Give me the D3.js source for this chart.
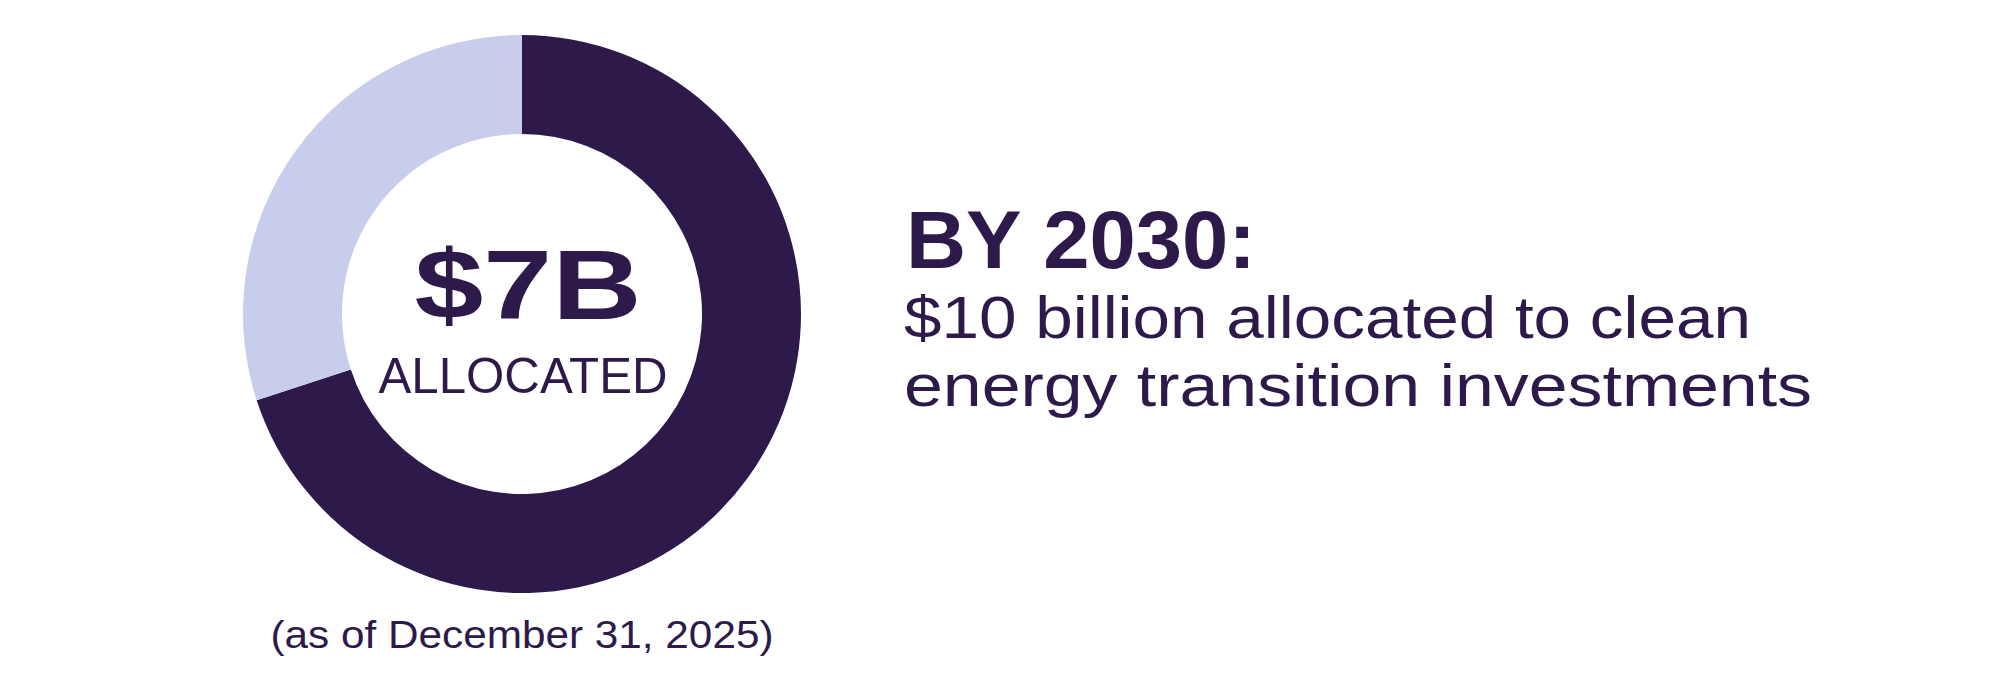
<!DOCTYPE html>
<html>
<head>
<meta charset="utf-8">
<script src="https://cdn.jsdelivr.net/npm/d3@7"></script>
<style>
  html, body { margin: 0; padding: 0; background: #ffffff; }
  svg { display: block; }
</style>
</head>
<body>
<div id="chart"></div>
<script>
// ---- data ----
const categories = ["Allocated", "Remaining to 2030 target"];
const values = [7, 3];           // $ billion
const target = 10;               // $ billion by 2030
const centerLabel = "$7B";
const centerSub = "ALLOCATED";
const footnote = "(as of December 31, 2025)";
const headline = "BY 2030:";
const bodyLines = ["$10 billion allocated to clean", "energy transition investments"];

// ---- styles ----
const W = 2000, H = 678;
const ink = "#2d1a4a";
const colors = d3.scaleOrdinal().domain(categories).range(["#2d1a4a", "#c7cdeb"]);
const font = "'Liberation Sans', Arial, sans-serif";

const svg = d3.select("#chart").append("svg")
  .attr("width", W).attr("height", H)
  .attr("viewBox", `0 0 ${W} ${H}`);
svg.append("rect").attr("width", W).attr("height", H).attr("fill", "#fff");

const cx = 522, cy = 314, rOuter = 279, rInner = 180;

const pie = d3.pie().sort(null).value(d => d.value);
const arc = d3.arc().innerRadius(rInner).outerRadius(rOuter);
const data = categories.map((c, i) => ({ cat: c, value: values[i] }));

const g = svg.append("g").attr("transform", `translate(${cx},${cy})`);
g.selectAll("path").data(pie(data)).join("path")
  .attr("d", arc)
  .attr("fill", d => colors(d.data.cat));

function fit(sel, width) {
  sel.attr("textLength", width).attr("lengthAdjust", "spacingAndGlyphs");
  return sel;
}

// center labels
fit(g.append("text")
  .attr("x", 6).attr("y", 5)
  .attr("text-anchor", "middle")
  .attr("font-family", font).attr("font-weight", 700)
  .attr("font-size", 98).attr("fill", ink)
  .text(centerLabel), 227);

fit(g.append("text")
  .attr("x", 1).attr("y", 79)
  .attr("text-anchor", "middle")
  .attr("font-family", font).attr("font-weight", 400)
  .attr("font-size", 50).attr("fill", ink)
  .text(centerSub), 289);

// footnote
fit(svg.append("text")
  .attr("x", cx).attr("y", 648)
  .attr("text-anchor", "middle")
  .attr("font-family", font).attr("font-weight", 400)
  .attr("font-size", 38).attr("fill", ink)
  .text(footnote), 503);

// right-side text
fit(svg.append("text")
  .attr("x", 906).attr("y", 268)
  .attr("font-family", font).attr("font-weight", 700)
  .attr("font-size", 81).attr("fill", ink)
  .text(headline), 350);

const bodyWidths = [847, 908];
const bodyY = [338, 406];
bodyLines.forEach((t, i) => {
  fit(svg.append("text")
    .attr("x", 904).attr("y", bodyY[i])
    .attr("font-family", font).attr("font-weight", 400)
    .attr("font-size", 59).attr("fill", ink)
    .text(t), bodyWidths[i]);
});
</script>
</body>
</html>
